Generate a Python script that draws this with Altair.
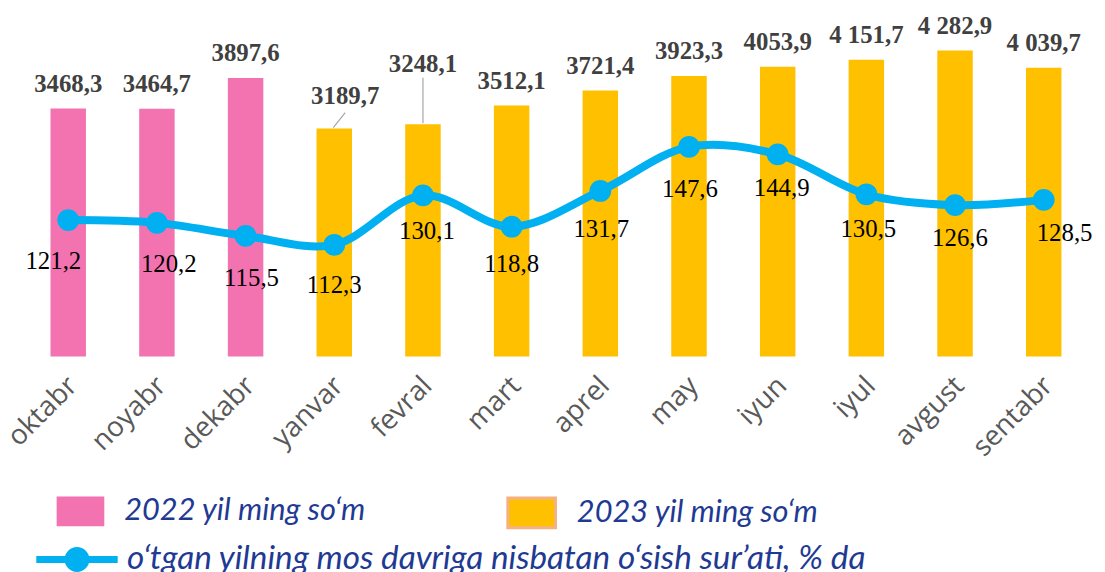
import altair as alt
import pandas as pd

# ---------------- data ----------------
months = ["oktabr", "noyabr", "dekabr", "yanvar", "fevral", "mart",
          "aprel", "may", "iyun", "iyul", "avgust", "sentabr"]
year_of_month = ["2022 yil ming so‘m"] * 3 + ["2023 yil ming so‘m"] * 9
wages = [3468.3, 3464.7, 3897.6, 3189.7, 3248.1, 3512.1,
         3721.4, 3923.3, 4053.9, 4151.7, 4282.9, 4039.7]
wage_labels = ["3468,3", "3464,7", "3897,6", "3189,7", "3248,1", "3512,1",
               "3721,4", "3923,3", "4053,9", "4 151,7", "4 282,9", "4 039,7"]
growth = [121.2, 120.2, 115.5, 112.3, 130.1, 118.8,
          131.7, 147.6, 144.9, 130.5, 126.6, 128.5]
growth_labels = ["121,2", "120,2", "115,5", "112,3", "130,1", "118,8",
                 "131,7", "147,6", "144,9", "130,5", "126,6", "128,5"]
year_names = ["2022 yil ming so‘m", "2023 yil ming so‘m"]
line_name = "o‘tgan yilning mos davriga nisbatan o‘sish sur’ati, % da"

df = pd.DataFrame({
    "month": months,
    "year": year_of_month,
    "wage": wages,
    "wage_label": wage_labels,
    "growth": growth,
    "growth_label": growth_labels,
    "series": [line_name] * len(months),
})

# ---------------- style ----------------
PINK = "#F373B0"
GOLD = "#FFC000"
BLUE = "#00B0F0"
GRID = "#D9D9D9"
LEG_TXT = "#1F3A93"
WAGE_DOMAIN = [0, 4500]
GROWTH_DOMAIN = [72, 188]

# label layout tweaks (pixel nudges dx, dy)
BAR_LABEL_NUDGE = {"yanvar": (11, -25), "fevral": (0, -53)}
LINE_LABEL_NUDGE = {
    "oktabr": (-15, 41), "noyabr": (12, 41), "dekabr": (6, 42), "yanvar": (0, 41),
    "fevral": (4, 36), "mart": (0, 38), "aprel": (1, 38), "may": (1, 42),
    "iyun": (4, 34), "iyul": (2, 35), "avgust": (5, 33), "sentabr": (21, 33),
}

x_enc = alt.X(
    "month:N", sort=months, title=None,
    scale=alt.Scale(paddingInner=0.6, paddingOuter=0.3),
    axis=alt.Axis(labelAngle=-45, labelAlign="right", labelBaseline="middle",
                  labelFont="Open Sans", labelFontSize=28, labelColor="#595959",
                  labelPadding=25, labelOffset=5, ticks=False, domain=False, grid=False),
)
x_plain = alt.X("month:N", sort=months)
y_wage = alt.Y(
    "wage:Q", title=None, scale=alt.Scale(domain=WAGE_DOMAIN, nice=False),
    axis=alt.Axis(values=list(range(0, 4501, 500)), labels=False, ticks=False,
                  domain=False, grid=True, gridColor=GRID, gridWidth=1.5),
)
y_wage_noaxis = alt.Y("wage:Q", scale=alt.Scale(domain=WAGE_DOMAIN, nice=False), axis=None)
y_growth = alt.Y("growth:Q", scale=alt.Scale(domain=GROWTH_DOMAIN, nice=False, zero=False), axis=None)

RECT_PATH = "M-0.8,-0.5H0.8V0.5H-0.8Z"
LINE_DOT_PATH = "M-1,0H1M-0.22,0A0.22,0.22,0,1,0,0.22,0A0.22,0.22,0,1,0,-0.22,0Z"

LEG_FONT_SIZE = 31
legend_common = dict(
    title=None, orient="none", symbolType=RECT_PATH, symbolSize=3600,
    labelFont="Lato", labelFontStyle="italic", labelFontSize=LEG_FONT_SIZE,
    labelColor=LEG_TXT, labelOffset=14, labelLimit=600, symbolOpacity=1,
)

base = alt.Chart(df)

bars22 = base.mark_bar().encode(
    x=x_enc,
    y=y_wage,
    color=alt.Color(
        "year:N",
        scale=alt.Scale(domain=[year_names[0]], range=[PINK]),
        legend=alt.Legend(legendX=27, legendY=450, symbolStrokeWidth=0, **legend_common),
    ),
).transform_filter(alt.datum.year == year_names[0])

bars23 = base.mark_bar().encode(
    x=x_plain,
    y=y_wage_noaxis,
    fill=alt.Fill(
        "year:N",
        scale=alt.Scale(domain=[year_names[1]], range=[GOLD]),
        legend=alt.Legend(legendX=480, legendY=450, symbolStrokeColor="#F4B183",
                          symbolStrokeWidth=3, **legend_common),
    ),
).transform_filter(alt.datum.year == year_names[1])

special_bar = list(BAR_LABEL_NUDGE.keys())
bar_text = base.mark_text(
    baseline="alphabetic", dy=-17, font="Liberation Serif", fontWeight="bold",
    fontSize=25, color="#404040",
).encode(x=x_plain, y=y_wage_noaxis, text="wage_label:N").transform_filter(
    alt.FieldOneOfPredicate(field="month", oneOf=[m for m in months if m not in special_bar])
)
bar_layers = [bars22, bars23, bar_text]
for m, (dx, dy) in BAR_LABEL_NUDGE.items():
    bar_layers.append(
        base.mark_text(baseline="alphabetic", dx=dx, dy=dy, font="Liberation Serif",
                       fontWeight="bold", fontSize=25, color="#404040")
        .encode(x=x_plain, y=y_wage_noaxis, text="wage_label:N")
        .transform_filter(alt.datum.month == m)
    )

# leader lines for moved labels
bar_layers.append(
    base.mark_rule(color="#A6A6A6", strokeWidth=1.2, yOffset=-1, y2Offset=-47)
    .encode(x=x_plain, y=y_wage_noaxis, y2="wage:Q")
    .transform_filter(alt.datum.month == "fevral")
)
bar_layers.append(
    base.mark_rule(color="#A6A6A6", strokeWidth=1.2, xOffset=-1, x2Offset=11,
                   yOffset=-1, y2Offset=-16)
    .encode(x=x_plain, x2="month:N", y=y_wage_noaxis, y2="wage:Q")
    .transform_filter(alt.datum.month == "yanvar")
)

bar_group = alt.layer(*bar_layers)

line = base.mark_line(strokeWidth=8, interpolate="catmull-rom").encode(
    x=x_plain,
    y=y_growth,
    stroke=alt.Stroke(
        "series:N",
        scale=alt.Scale(domain=[line_name], range=[BLUE]),
        legend=alt.Legend(
            title=None, orient="none", legendX=9, legendY=484,
            symbolType=LINE_DOT_PATH, symbolSize=6724, symbolStrokeWidth=7,
            symbolFillColor=BLUE, symbolStrokeColor=BLUE, symbolOpacity=1,
            labelFont="Lato", labelFontStyle="italic", labelFontSize=33.5,
            labelColor=LEG_TXT, labelOffset=6, labelLimit=1000,
        ),
    ),
)
points = base.mark_circle(size=480, color=BLUE, opacity=1).encode(x=x_plain, y=y_growth)

line_layers = [line, points]
for m, (dx, dy) in LINE_LABEL_NUDGE.items():
    line_layers.append(
        base.mark_text(baseline="middle", dx=dx, dy=dy, font="Liberation Serif",
                       fontSize=25, color="#000000")
        .encode(x=x_plain, y=y_growth, text="growth_label:N")
        .transform_filter(alt.datum.month == m)
    )
line_group = alt.layer(*line_layers)

chart = (
    alt.layer(bar_group, line_group)
    .resolve_scale(y="independent", stroke="independent", color="independent",
                   fill="independent")
    .properties(
        width=1072, height=324,
        autosize=alt.AutoSizeParams(type="none"),
        padding={"left": 16, "top": 25, "right": 9, "bottom": 215},
        background="white",
    )
    .configure_view(stroke=None)
)

chart.save("out.html", embed_options={"renderer": "svg", "actions": False})
